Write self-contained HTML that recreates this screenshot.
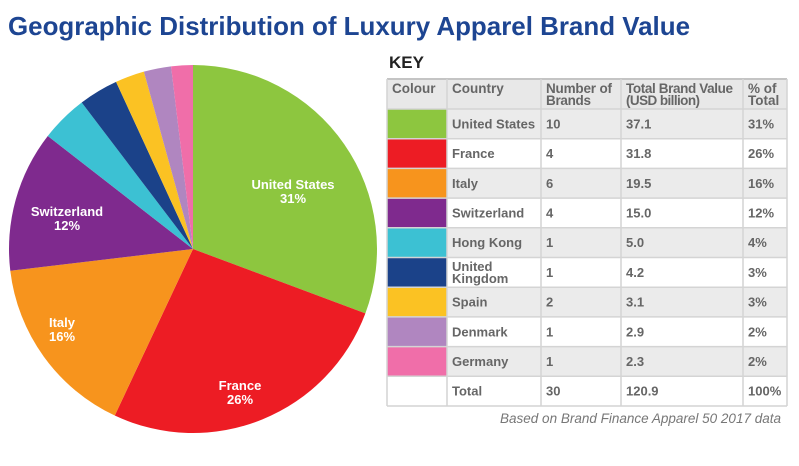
<!DOCTYPE html>
<html><head><meta charset="utf-8"><style>
html,body{margin:0;padding:0;background:#fff;width:799px;height:466px;overflow:hidden}
svg{display:block}
text{font-family:"Liberation Sans",Arial,sans-serif}
</style></head><body>
<svg id="s" width="799" height="466" viewBox="0 0 799 466" xmlns="http://www.w3.org/2000/svg">
<text x="8" y="35" font-size="26" font-weight="bold" fill="#1d4592" textLength="682" lengthAdjust="spacingAndGlyphs">Geographic Distribution of Luxury Apparel Brand Value</text>
<text x="389" y="68" font-size="17" font-weight="bold" fill="#222">KEY</text>
<g id="pie"></g>
<g id="tbl"></g>
<text x="781" y="423" font-size="13.5" font-style="italic" fill="#777" text-anchor="end">Based on Brand Finance Apparel 50 2017 data</text>
</svg>
<script>
(function(){
var d=[["United States",10,"37.1",37.1,"31%","#8dc63f"],["France",4,"31.8",31.8,"26%","#ed1c24"],["Italy",6,"19.5",19.5,"16%","#f7941d"],["Switzerland",4,"15.0",15.0,"12%","#7f2a8e"],["Hong Kong",1,"5.0",5.0,"4%","#3cc1d3"],["United Kingdom",1,"4.2",4.2,"3%","#1b4289"],["Spain",2,"3.1",3.1,"3%","#fbc223"],["Denmark",1,"2.9",2.9,"2%","#b086c0"],["Germany",1,"2.3",2.3,"2%","#f06ea9"]];
var NS="http://www.w3.org/2000/svg";
function el(t,a,p,txt){var e=document.createElementNS(NS,t);for(var k in a)e.setAttribute(k,a[k]);if(txt!=null)e.textContent=txt;p.appendChild(e);return e;}
var pie=document.getElementById("pie"),cx=193,cy=249,r=184,tot=120.9,a0=0;
d.forEach(function(r0){var a1=a0+r0[3]/tot*2*Math.PI;
 var x0=cx+r*Math.sin(a0),y0=cy-r*Math.cos(a0),x1=cx+r*Math.sin(a1),y1=cy-r*Math.cos(a1);
 el("path",{d:"M"+cx+","+cy+"L"+x0+","+y0+"A"+r+","+r+" 0 "+((a1-a0)>Math.PI?1:0)+" 1 "+x1+","+y1+"Z",fill:r0[5]},pie);
 a0=a1;});
[["United States","31%",293,189],["France","26%",240,390],["Italy","16%",62,327],["Switzerland","12%",67,216]].forEach(function(l){
 el("text",{x:l[2],y:l[3],"font-size":13,"font-weight":"bold",fill:"#fff","text-anchor":"middle"},pie,l[0]);
 el("text",{x:l[2],y:l[3]+14,"font-size":13,"font-weight":"bold",fill:"#fff","text-anchor":"middle"},pie,l[1]);});
var t=document.getElementById("tbl");
var cols=[387,447,541,621,743,787],ty=79,hh=30,rh=29.7;
el("rect",{x:387,y:ty,width:400,height:hh,fill:"#e8e8e8"},t);
var hd=[["Colour"],["Country"],["Number of","Brands"],["Total Brand Value","(USD billion)"],["% of","Total"]];
hd.forEach(function(h,i){h.forEach(function(s,j){var a={x:cols[i]+5,y:ty+14+j*12,"font-size":13.5,"font-weight":"bold",fill:"#666"};if(i==3)a.textLength=(j==0?107:74);if(i==2)a.textLength=(j==0?66:45);el("text",a,t,s);});});
var rows=d.concat([["Total",30,"120.9",0,"100%","#fff"]]);
rows.forEach(function(r0,i){var y=ty+hh+i*rh;var g=(i%2==0)?"#ebebeb":"#fff";
 el("rect",{x:447,y:y,width:340,height:rh,fill:g},t);
 el("rect",{x:387,y:y,width:60,height:rh,fill:r0[5]},t);
 var cy2=y+rh/2+4.5,fs=13;
 if(r0[0]=="United Kingdom"){el("text",{x:452,y:cy2-6,"font-size":fs,"font-weight":"bold",fill:"#666"},t,"United");el("text",{x:452,y:cy2+6,"font-size":fs,"font-weight":"bold",fill:"#666"},t,"Kingdom");}
 else el("text",{x:452,y:cy2,"font-size":fs,"font-weight":"bold",fill:"#666"},t,r0[0]);
 el("text",{x:546,y:cy2,"font-size":fs,"font-weight":"bold",fill:"#666"},t,r0[1]);
 el("text",{x:626,y:cy2,"font-size":fs,"font-weight":"bold",fill:"#666"},t,r0[2]);
 el("text",{x:748,y:cy2,"font-size":fs,"font-weight":"bold",fill:"#666"},t,r0[4]);
 el("line",{x1:387,x2:787,y1:y,y2:y,stroke:"#d4d4d4","stroke-width":1.5},t);});
var bot=ty+hh+10*rh;
el("line",{x1:387,x2:787,y1:bot,y2:bot,stroke:"#d4d4d4","stroke-width":1.5},t);
el("line",{x1:387,x2:787,y1:ty,y2:ty,stroke:"#c4c4c4","stroke-width":2},t);
cols.forEach(function(x){el("line",{x1:x,x2:x,y1:ty,y2:bot,stroke:"#d4d4d4","stroke-width":1.5},t);});
})();
</script>
</body></html>
